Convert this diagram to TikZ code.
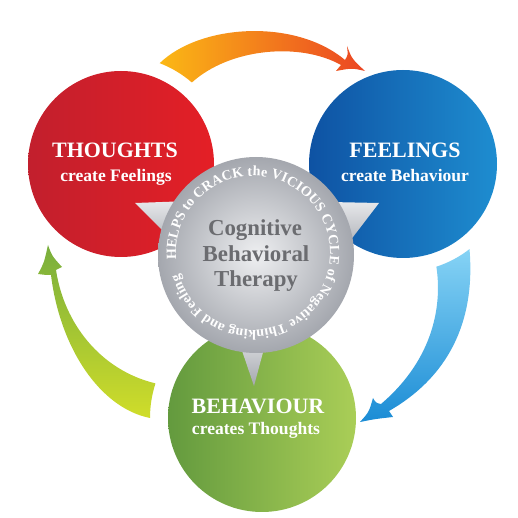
\documentclass[tikz,border=0pt]{standalone}
\usepackage{fontspec}
\setmainfont{Liberation Serif}
\usetikzlibrary{calc}
\usetikzlibrary{decorations.text}

\definecolor{reddark}{HTML}{C21F2D}
\definecolor{redlight}{HTML}{E41F26}
\definecolor{bluedark}{HTML}{0E52A3}
\definecolor{bluelight}{HTML}{1E8DD0}
\definecolor{greendark}{HTML}{639A3E}
\definecolor{greenlight}{HTML}{AACE57}
\definecolor{graylight}{HTML}{EEEFF1}
\definecolor{graydark}{HTML}{A4A7AE}
\definecolor{cbtgray}{HTML}{6B6C70}
\definecolor{orangetail}{HTML}{FBB815}
\definecolor{orangehead}{HTML}{EB4523}
\definecolor{skytail}{HTML}{86D3F5}
\definecolor{skyhead}{HTML}{1B8CD5}
\definecolor{limetail}{HTML}{D0DD2A}
\definecolor{limehead}{HTML}{78AE3C}

\begin{document}
\begin{tikzpicture}[x=0.02cm, y=0.02cm,
    headtext/.style={text=white, font=\fontsize{12.5}{14}\selectfont\bfseries, anchor=base, inner sep=0pt},
    subtext/.style={text=white, font=\fontsize{10}{12}\selectfont\bfseries, anchor=base, inner sep=0pt},
    cbttext/.style={text=cbtgray, font=\fontsize{13}{15}\selectfont\bfseries, anchor=base, inner sep=0pt},
    pointer/.style={top color=graylight!90!graydark, bottom color=graydark}]
    \useasboundingbox (0,0) rectangle (518,518);
    \coordinate (thoughts) at (121,354);
    \coordinate (feelings) at (403,354);
    \coordinate (behaviour) at (262,100);
    \coordinate (cbt) at (256,263);
    \coordinate (ring) at (253,265);

    % arrows
    \shade[left color=orangetail, right color=orangehead]
        ($(thoughts)+(69:108)$) .. controls (200,494) and (295,500) .. (345,458)
        .. controls (348,463) .. (347,472) .. controls (352,459) .. (365,447)
        .. controls (352,450) .. (336,447) .. controls (339,450) .. (341,453)
        .. controls (300,476) and (230,470) .. ($(thoughts)+(49:108)$)
        arc[start angle=49, end angle=69, radius=108] -- cycle;
    \shade[top color=skytail, bottom color=skyhead]
        ($(feelings)+(-72:108)$) .. controls (442,215) and (435,160) .. (381,114)
        .. controls (376,115) .. (373,120) .. controls (369,106) .. (360,96)
        .. controls (375,99) .. (393,101) .. controls (391,104) .. (389,107)
        .. controls (455,145) and (475,205) .. ($(feelings)+(-52:108)$)
        arc[start angle=-52, end angle=-72, radius=108] -- cycle;
    \shade[bottom color=limetail, top color=limehead]
        ($(behaviour)+(180:112)$) .. controls (100,110) and (60,170) .. (51,243)
        .. controls (46,243) .. (38,244) .. controls (44,255) .. (48,273)
        .. controls (52,262) .. (62,251) .. controls (59,249) .. (56,248)
        .. controls (64,195) and (100,148) .. ($(behaviour)+(162:112)$)
        arc[start angle=162, end angle=180, radius=112] -- cycle;

    % circles
    \shade[left color=reddark, right color=redlight] (thoughts) circle[radius=93];
    \shade[left color=bluedark, right color=bluelight] (feelings) circle[radius=94];
    \shade[left color=greendark, right color=greenlight] (behaviour) circle[radius=94];

    \shade[pointer] (135,315) -- (190,317) -- (185,265) -- cycle;
    \shade[pointer] (379,315) -- (330,316) -- (340,264) -- cycle;
    \shade[pointer] (254,132) -- (235,188) -- (269,188) -- cycle;
    \shade[inner color=graylight, outer color=graydark] (cbt) circle[radius=98];

    \path[decorate, decoration={text along path, text color=white, text align=fit to path,
        text={|\fontsize{8}{9}\selectfont\bfseries|HELPS to CRACK the VICIOUS CYCLE of Negative Thinking and Feeling}}]
        ($(ring)+(185:77)$) arc[start angle=185, end angle=-164, radius=77];

    \node[headtext] (thoughtshead) at (115,360) {THOUGHTS};
    \node[subtext] (thoughtssub) at (116,336) {create Feelings};
    \node[headtext] (feelingshead) at (405,360) {FEELINGS};
    \node[subtext] (feelingssub) at (405,336) {create Behaviour};
    \node[headtext] (behaviourhead) at (258,104) {BEHAVIOUR};
    \node[subtext] (behavioursub) at (256,83) {creates Thoughts};

    \node[cbttext] (cbtone) at (255,282) {Cognitive};
    \node[cbttext] (cbttwo) at (256,256) {Behavioral};
    \node[cbttext] (cbtthree) at (256,231) {Therapy};
\end{tikzpicture}
\end{document}
